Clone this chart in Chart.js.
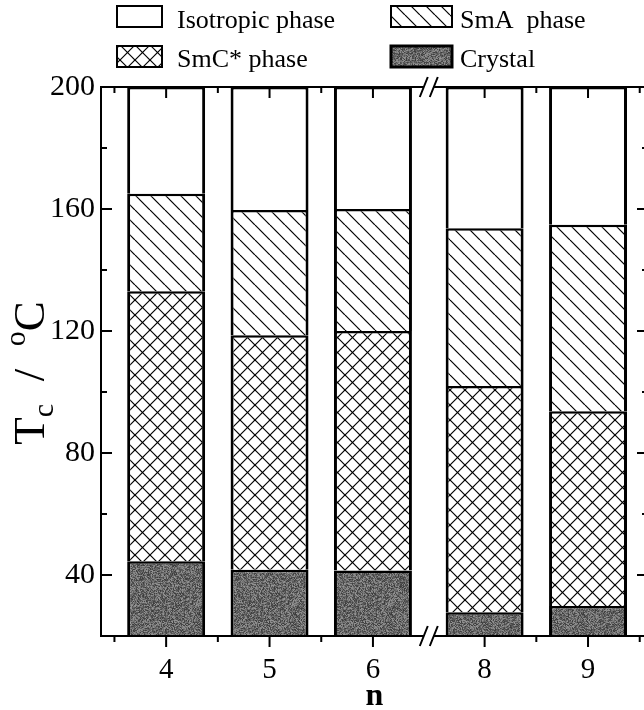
<!DOCTYPE html>
<html>
<head>
<meta charset="utf-8">
<script src="https://cdn.jsdelivr.net/npm/chart.js@4.4.1/dist/chart.umd.min.js"></script>
<style>
  html, body { margin: 0; padding: 0; background: #fff; overflow: hidden; }
  #wrap { width: 644px; height: 710px; overflow: hidden; }
  canvas { display: block; }
</style>
</head>
<body>
<div id="wrap"><canvas id="c" width="660" height="710"></canvas></div>
<script>
// Alkyl chain length n and the phase transition temperatures (°C)
const nValues   = ['4', '5', '6', '8', '9'];
const crToSmC   = [44.5, 41.7, 41.5, 27.8, 29.8];     // Crystal -> SmC*
const smcToSmA  = [133.0, 118.6, 120.0, 102.0, 93.7]; // SmC* -> SmA
const smaToIso  = [165.0, 159.7, 160.0, 153.7, 154.8]; // SmA -> Isotropic
const yMajorTicks = [40, 80, 120, 160, 200];
const yMinorTicks = [60, 100, 140, 180];
const Y_MIN = 20, Y_MAX = 200;

// the n axis is broken between n = 6 and n = 8
const BREAK_AFTER = 2;
const BREAK_GAP = 0.08;
const slot = i => i + (i > BREAK_AFTER ? BREAK_GAP : 0);

const SERIF = '"Liberation Serif", "Times New Roman", serif';
const canvas = document.getElementById('c');
const ctx = canvas.getContext('2d');

// ---------- fill patterns ----------
function hatch(dirs, size, lw) {
  const c = document.createElement('canvas');
  c.width = c.height = size;
  const g = c.getContext('2d');
  g.fillStyle = '#fff';
  g.fillRect(0, 0, size, size);
  g.strokeStyle = '#000';
  g.lineWidth = lw;
  for (const d of dirs) {
    for (const off of [-size, 0, size]) {
      g.beginPath();
      if (d === '\\') { g.moveTo(off, 0); g.lineTo(off + size, size); }
      else { g.moveTo(off, size); g.lineTo(off + size, 0); }
      g.stroke();
    }
  }
  return ctx.createPattern(c, 'repeat');
}

// speckled dark-grey texture for the crystal phase
function grain() {
  const s = 96;
  const c = document.createElement('canvas');
  c.width = c.height = s;
  const g = c.getContext('2d');
  const img = g.createImageData(s, s);
  let h = 2463534242;
  for (let i = 0; i < s * s; i++) {
    h ^= h << 13; h >>>= 0;
    h ^= h >>> 17;
    h ^= h << 5; h >>>= 0;
    const v = 58 + ((h & 255) / 255) * 92;
    img.data[i * 4] = img.data[i * 4 + 1] = img.data[i * 4 + 2] = v;
    img.data[i * 4 + 3] = 255;
  }
  g.putImageData(img, 0, 0);
  return ctx.createPattern(c, 'repeat');
}

const fillIso = '#ffffff';
const fillSmA = hatch(['\\'], 15, 1.2);
const fillSmC = hatch(['\\', '/'], 15, 1.2);
const fillCr  = grain();

// ---------- stacked segment heights ----------
const pts = arr => arr.map((v, i) => ({ x: slot(i), y: v }));
const crystalH = crToSmC.slice();
const smcH = smcToSmA.map((t, i) => t - crToSmC[i]);
const smaH = smaToIso.map((t, i) => t - smcToSmA[i]);
const isoH = smaToIso.map(t => Y_MAX - t);

const barStyle = {
  borderColor: '#000',
  borderWidth: { left: 3, right: 3, top: 2.5, bottom: 0 },
  borderSkipped: 'start',
  barPercentage: 0.754,
  categoryPercentage: 1
};

const datasets = [
  { label: 'Crystal',         data: pts(crystalH), backgroundColor: fillCr,  ...barStyle },
  { label: 'SmC* phase',      data: pts(smcH),     backgroundColor: fillSmC, ...barStyle },
  { label: 'SmA  phase',      data: pts(smaH),     backgroundColor: fillSmA, ...barStyle },
  { label: 'Isotropic phase', data: pts(isoH),     backgroundColor: fillIso, ...barStyle }
];

// ---------- frame, inward/outward ticks and axis-break marks ----------
const framePlugin = {
  id: 'frame',
  afterDatasetsDraw(chart) {
    const { ctx, chartArea: a, scales: { x, y } } = chart;
    ctx.save();
    ctx.strokeStyle = '#000';
    ctx.lineWidth = 2;
    ctx.lineCap = 'butt';
    ctx.beginPath();
    ctx.moveTo(a.left, a.top); ctx.lineTo(a.right, a.top);
    ctx.moveTo(a.left, a.bottom); ctx.lineTo(a.right, a.bottom);
    ctx.moveTo(a.left, a.top - 1); ctx.lineTo(a.left, a.bottom + 1);
    ctx.moveTo(a.right, a.top - 1); ctx.lineTo(a.right, a.bottom + 1);
    ctx.stroke();

    const MAJ = 11, MIN = 6;
    ctx.beginPath();
    // y ticks, pointing inward on both sides
    for (const v of yMajorTicks) {
      const p = y.getPixelForValue(v);
      ctx.moveTo(a.left, p); ctx.lineTo(a.left + MAJ, p);
      ctx.moveTo(a.right, p); ctx.lineTo(a.right - MAJ, p);
    }
    for (const v of yMinorTicks) {
      const p = y.getPixelForValue(v);
      ctx.moveTo(a.left, p); ctx.lineTo(a.left + MIN, p);
      ctx.moveTo(a.right, p); ctx.lineTo(a.right - MIN, p);
    }
    // x ticks: outward at the bottom, inward at the top
    const majors = nValues.map((_, i) => slot(i));
    const minors = [slot(0) - 0.5];
    for (let i = 0; i < nValues.length - 1; i++) {
      if (i !== BREAK_AFTER) minors.push((slot(i) + slot(i + 1)) / 2);
    }
    minors.push(slot(nValues.length - 1) + 0.5);
    for (const v of majors) {
      const p = x.getPixelForValue(v);
      ctx.moveTo(p, a.bottom); ctx.lineTo(p, a.bottom + MAJ);
      ctx.moveTo(p, a.top); ctx.lineTo(p, a.top + MAJ);
    }
    for (const v of minors) {
      const p = x.getPixelForValue(v);
      ctx.moveTo(p, a.bottom); ctx.lineTo(p, a.bottom + MIN);
      ctx.moveTo(p, a.top); ctx.lineTo(p, a.top + MIN);
    }
    ctx.stroke();

    // axis break "//" on the top and bottom edges
    const xb = x.getPixelForValue(BREAK_AFTER + 0.5 + BREAK_GAP / 2);
    for (const yb of [a.top, a.bottom]) {
      ctx.fillStyle = '#fff';
      ctx.fillRect(xb - 5, yb - 3, 10, 6);
      ctx.beginPath();
      for (const dx of [-5, 5]) {
        ctx.moveTo(xb + dx - 4, yb + 10);
        ctx.lineTo(xb + dx + 4, yb - 10);
      }
      ctx.stroke();
    }
    ctx.restore();
  }
};

// ---------- y-axis title with sub/superscript and the two-column legend ----------
const textPlugin = {
  id: 'texts',
  afterDraw(chart) {
    const { ctx } = chart;
    ctx.save();
    ctx.fillStyle = '#000';

    // T_c / °C, rotated
    const big = '45px ' + SERIF, small = '30px ' + SERIF;
    const parts = [
      { t: 'T', f: big, dy: 0 },
      { t: 'c', f: small, dy: 9 },
      { t: '  /  ', f: big, dy: 0 },
      { t: 'o', f: small, dy: -19 },
      { t: 'C', f: big, dy: 0 }
    ];
    let total = 0;
    for (const p of parts) { ctx.font = p.f; p.w = ctx.measureText(p.t).width; total += p.w; }
    ctx.translate(44, 373);
    ctx.rotate(-Math.PI / 2);
    ctx.textBaseline = 'alphabetic';
    ctx.textAlign = 'left';
    let xx = -total / 2;
    for (const p of parts) { ctx.font = p.f; ctx.fillText(p.t, xx, p.dy); xx += p.w; }
    ctx.setTransform(1, 0, 0, 1, 0, 0);

    // legend
    const ds = chart.data.datasets;
    const items = [
      { d: 3, box: [117, 6, 45, 21], tx: 177, by: 28, bw: 2 },
      { d: 2, box: [391, 6, 61, 21], tx: 460, by: 28, bw: 2 },
      { d: 1, box: [117, 46, 45, 21], tx: 177, by: 67, bw: 2 },
      { d: 0, box: [391, 46, 61, 21], tx: 460, by: 67, bw: 3 }
    ];
    ctx.font = '26px ' + SERIF;
    for (const it of items) {
      const [bx, by, w, h] = it.box;
      ctx.fillStyle = ds[it.d].backgroundColor;
      ctx.fillRect(bx, by, w, h);
      ctx.strokeStyle = '#000';
      ctx.lineWidth = it.bw;
      ctx.strokeRect(bx, by, w, h);
      ctx.fillStyle = '#000';
      ctx.fillText(ds[it.d].label, it.tx, it.by);
    }
    ctx.restore();
  }
};

new Chart(ctx, {
  type: 'bar',
  data: { datasets },
  options: {
    responsive: false,
    animation: false,
    devicePixelRatio: 1,
    layout: { padding: { top: 87, right: 12, left: 0, bottom: 0 } },
    plugins: { legend: { display: false }, tooltip: { enabled: false } },
    scales: {
      x: {
        type: 'linear',
        stacked: true,
        offset: false,
        min: -0.63,
        max: 4.66,
        grid: { display: false, drawTicks: false },
        border: { display: false },
        afterBuildTicks: s => { s.ticks = nValues.map((_, i) => ({ value: slot(i) })); },
        ticks: {
          autoSkip: false,
          maxRotation: 0,
          padding: 17,
          color: '#000',
          font: { family: SERIF, size: 29 },
          callback: (v, i) => nValues[i]
        },
        title: {
          display: true,
          text: 'n',
          color: '#000',
          font: { family: SERIF, size: 32, weight: 'bold' },
          padding: { top: 0, bottom: -6 }
        },
        afterFit: s => { s.height = 74; }
      },
      y: {
        stacked: true,
        min: Y_MIN,
        max: Y_MAX,
        grid: { display: false, drawTicks: false },
        border: { display: false },
        afterBuildTicks: s => { s.ticks = yMajorTicks.map(v => ({ value: v })); },
        ticks: { padding: 6, color: '#000', font: { family: SERIF, size: 30 } },
        afterFit: s => { s.width = 101; }
      }
    }
  },
  plugins: [framePlugin, textPlugin]
});
</script>
</body>
</html>
